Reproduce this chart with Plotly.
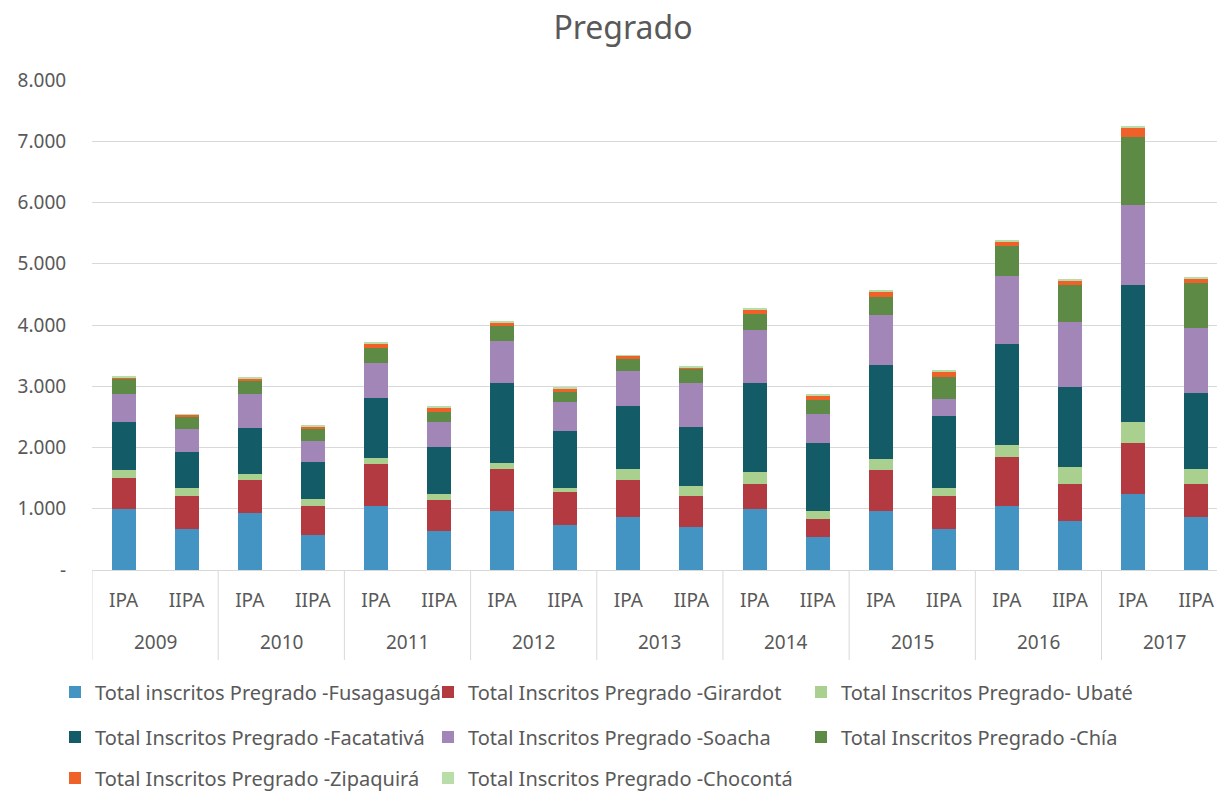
import plotly.graph_objects as go

years = ["2009", "2009", "2010", "2010", "2011", "2011", "2012", "2012", "2013", "2013",
         "2014", "2014", "2015", "2015", "2016", "2016", "2017", "2017"]
periods = ["IPA", "IIPA"] * 9

fusagasuga = [990, 670, 925, 570, 1050, 640, 960, 735, 870, 707, 995, 543, 962, 668, 1049, 799, 1245, 864]
girardot = [505, 545, 540, 480, 675, 510, 695, 543, 597, 505, 407, 289, 663, 544, 799, 603, 826, 538]
ubate = [135, 125, 100, 103, 98, 98, 97, 65, 190, 163, 201, 130, 190, 125, 195, 283, 353, 250]
facatativa = [790, 580, 760, 603, 978, 761, 1305, 919, 1021, 957, 1457, 1109, 1527, 1179, 1653, 1310, 2228, 1245]
soacha = [450, 375, 545, 348, 581, 413, 674, 484, 571, 728, 864, 483, 826, 283, 1108, 1054, 1305, 1054]
chia = [255, 207, 228, 196, 250, 163, 250, 163, 190, 228, 250, 218, 294, 359, 484, 603, 1114, 728]
zipaquira = [25, 33, 27, 38, 66, 65, 65, 54, 55, 16, 81, 81, 81, 76, 82, 82, 157, 87]
choconta = [10, 10, 16, 16, 27, 22, 22, 16, 10, 11, 17, 17, 17, 16, 16, 16, 11, 17]

series = [
    ("Total inscritos Pregrado -Fusagasugá", fusagasuga, "#4393C3", "legend"),
    ("Total Inscritos Pregrado -Girardot", girardot, "#B33A40", "legend"),
    ("Total Inscritos Pregrado- Ubaté", ubate, "#A9D08E", "legend"),
    ("Total Inscritos Pregrado -Facatativá", facatativa, "#125B67", "legend2"),
    ("Total Inscritos Pregrado -Soacha", soacha, "#A186B7", "legend2"),
    ("Total Inscritos Pregrado -Chía", chia, "#5D8A44", "legend2"),
    ("Total Inscritos Pregrado -Zipaquirá", zipaquira, "#F0612A", "legend3"),
    ("Total Inscritos Pregrado -Chocontá", choconta, "#B8DDA9", "legend3"),
]

ytickvals = [0, 1000, 2000, 3000, 4000, 5000, 6000, 7000, 8000]
yticktext = ["-", "1.000", "2.000", "3.000", "4.000", "5.000", "6.000", "7.000", "8.000"]

FONT = "Noto Sans, Open Sans, sans-serif"
GREY = "#595959"
LINE = "#D9D9D9"
W, H = 1217, 792

xpos = list(range(len(periods)))

fig = go.Figure()
for name, vals, color, lg in series:
    fig.add_trace(go.Bar(
        x=xpos, y=vals, name=name,
        marker=dict(color=color, line=dict(width=0)),
        legend=lg, hoverinfo="name+y",
    ))

# year group labels and dividers derived from the category arrays
groups = []
for i, yr in enumerate(years):
    if not groups or groups[-1][0] != yr:
        groups.append([yr, i, i])
    else:
        groups[-1][2] = i

annotations = []
shapes = []
for yr, i0, i1 in groups:
    annotations.append(dict(
        x=(i0 + i1) / 2, xref="x", y=(570 - 642) / 490, yref="paper",
        text=yr, showarrow=False, xanchor="center", yanchor="middle",
        font=dict(family=FONT, size=19, color=GREY),
    ))
    shapes.append(dict(
        type="line", xref="x", yref="paper", x0=i0 - 0.5, x1=i0 - 0.5,
        y0=0, y1=(570 - 660) / 490, line=dict(color=LINE, width=1),
    ))

legend_common = dict(
    orientation="h", xref="container", yref="container",
    x=55 / W, xanchor="left", yanchor="middle",
    font=dict(family=FONT, size=20, color=GREY),
    entrywidth=328, entrywidthmode="pixels", traceorder="normal",
    bgcolor="rgba(0,0,0,0)", itemclick=False, itemdoubleclick=False,
)

fig.update_layout(
    width=W, height=H,
    margin=dict(l=92, r=0, t=80, b=222),
    paper_bgcolor="white", plot_bgcolor="white",
    barmode="stack", bargap=0.62,
    font=dict(family=FONT, color=GREY, size=19),
    title=dict(text="Pregrado", x=623 / W, xanchor="center", xref="container",
               y=1 - 28 / H, yanchor="middle", yref="container",
               font=dict(family=FONT, size=32, color=GREY)),
    showlegend=True,
    legend=dict(legend_common, y=1 - 692 / H),
    legend2=dict(legend_common, y=1 - 737 / H),
    legend3=dict(legend_common, y=1 - 778 / H),
    annotations=annotations,
    shapes=shapes,
)

fig.update_yaxes(
    range=[0, 8000], tickvals=ytickvals, ticktext=yticktext,
    showgrid=True, gridcolor=LINE, gridwidth=1,
    zeroline=False, showline=False, automargin=False,
    ticks="outside", ticklen=21, tickcolor="rgba(0,0,0,0)",
    tickfont=dict(family=FONT, size=19, color=GREY),
)
fig.update_xaxes(
    range=[-0.5, 17.33], tickvals=xpos, ticktext=periods,
    showline=True, linecolor=LINE, linewidth=1, automargin=False,
    ticks="outside", ticklen=13, tickcolor="rgba(0,0,0,0)",
    tickfont=dict(family=FONT, size=19, color=GREY),
    showgrid=False, zeroline=False,
)

fig.write_html(
    "out.html",
    config={"displayModeBar": False},
    post_script="document.body.style.margin='0';document.body.style.overflow='hidden';",
)
